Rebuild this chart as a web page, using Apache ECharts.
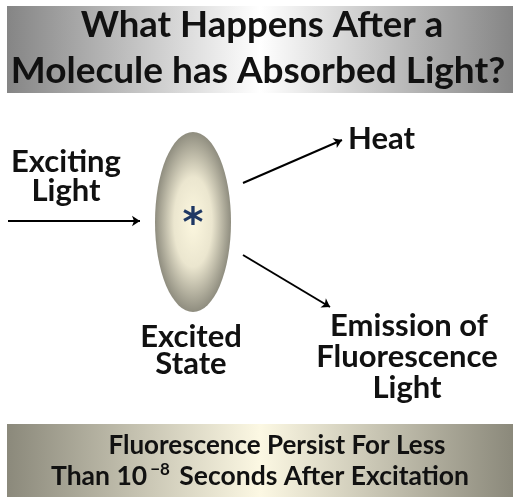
<!DOCTYPE html>
<html>
<head>
<meta charset="utf-8">
<script src="https://cdn.jsdelivr.net/npm/echarts@6/dist/echarts.min.js"></script>
<style>html,body{margin:0;padding:0;background:#fff}#c{width:518px;height:497px}</style>
</head>
<body>
<div id="c"></div>
<script>
// ---- content ----
const titleLines = ['What Happens After a', 'Molecule has Absorbed Light?'];
const footerLine1 = 'Fluorescence Persist For Less';
const footerLine2 = ['Than 10', '\u22128', ' Seconds After Excitation'];
const excitingLabel = ['Exciting', 'Light'];
const stateLabel = ['Excited', 'State'];
const heatLabel = ['Heat'];
const emissionLabel = ['Emission of', 'Fluorescence', 'Light'];
const centerMark = '*';
const arrowNames = ['Exciting light', 'Heat', 'Emission'];

// ---- layout (pixel space via hidden axes) ----
const FONT = 'Lato';
const arrowCoords = [
  [[8, 221], [140, 221]],
  [[243, 183], [342, 140]],
  [[243, 255], [330, 307]]
];

const chart = echarts.init(document.getElementById('c'), null, {renderer: 'canvas'});

function txt(t, x, y, size, align, color, font) {
  return {
    type: 'text', z: 10,
    style: {
      text: t, x: x, y: y,
      font: 'bold ' + size + 'px ' + (font || FONT),
      fill: color || '#111',
      textAlign: align || 'center',
      textVerticalAlign: 'middle'
    }
  };
}

const graphics = [];
// top banner
graphics.push({
  type: 'rect', z: 1,
  shape: {x: 7, y: 6, width: 506, height: 87},
  style: {fill: new echarts.graphic.LinearGradient(0, 0, 1, 0, [
    {offset: 0, color: '#858585'}, {offset: 0.5, color: '#ffffff'}, {offset: 1, color: '#858585'}])}
});
// bottom banner
graphics.push({
  type: 'rect', z: 1,
  shape: {x: 7, y: 424, width: 506, height: 80},
  style: {fill: new echarts.graphic.LinearGradient(0, 0, 1, 0, [
    {offset: 0, color: '#8b897b'}, {offset: 0.5, color: '#fcf8e3'}, {offset: 1, color: '#8b897b'}])}
});
// ellipse (circle scaled vertically so the radial gradient stays elliptical)
graphics.push({
  type: 'circle', z: 2,
  x: 193, y: 222, scaleY: 90 / 38,
  shape: {cx: 0, cy: 0, r: 38},
  style: {fill: new echarts.graphic.RadialGradient(0.5, 0.5, 0.5, [
    {offset: 0, color: '#fcf7df'}, {offset: 0.5, color: '#ebe6cf'}, {offset: 1, color: '#8f8d7f'}])}
});
graphics.push(txt(centerMark, 193, 226, 40, 'center', '#1f3864', 'DejaVu Sans'));

// title
graphics.push(txt(titleLines[0], 262, 25, 36.5));
graphics.push(txt(titleLines[1], 258, 71, 37));
// footer
graphics.push(txt(footerLine1, 277, 446, 26));
graphics.push({
  type: 'text', z: 10,
  style: {
    text: '{n|' + footerLine2[0] + '}{s|' + footerLine2[1] + '}{n|' + footerLine2[2] + '}',
    x: 260, y: 476, textAlign: 'center', textVerticalAlign: 'middle',
    rich: {
      n: {font: 'bold 26.5px ' + FONT, fill: '#111', lineHeight: 28},
      s: {font: 'bold 17px ' + FONT, fill: '#111', lineHeight: 28, padding: [0, 3, 12, 3]}
    }
  }
});
// labels
graphics.push(txt(excitingLabel[0], 66, 162, 31));
graphics.push(txt(excitingLabel[1], 66, 191, 31));
graphics.push(txt(heatLabel[0], 348, 139, 31, 'left'));
graphics.push(txt(stateLabel[0], 191, 337, 31));
graphics.push(txt(stateLabel[1], 191, 364, 31));
graphics.push(txt(emissionLabel[0], 409, 326, 31));
graphics.push(txt(emissionLabel[1], 407, 357, 31));
graphics.push(txt(emissionLabel[2], 407, 388, 31));

chart.setOption({
  animation: false,
  grid: {left: 0, right: 0, top: 0, bottom: 0},
  xAxis: {type: 'value', min: 0, max: 518, show: false},
  yAxis: {type: 'value', min: 0, max: 497, inverse: true, show: false},
  graphic: graphics,
  series: [{
    type: 'lines',
    coordinateSystem: 'cartesian2d',
    z: 5,
    symbol: ['none', 'arrow'],
    symbolSize: 8,
    lineStyle: {color: '#000', width: 2, opacity: 1},
    data: arrowNames.map((n, i) => ({name: n, coords: arrowCoords[i]}))
  }]
});
</script>
</body>
</html>
